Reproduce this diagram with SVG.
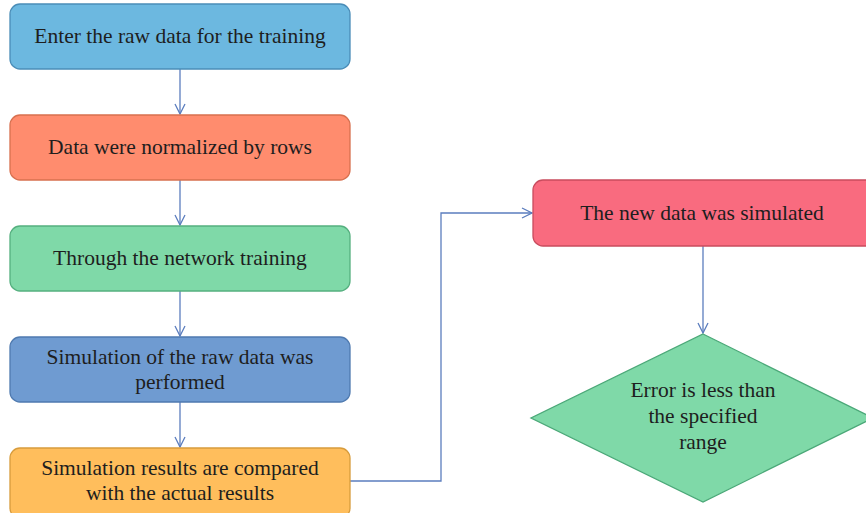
<svg xmlns="http://www.w3.org/2000/svg" width="866" height="513" viewBox="0 0 866 513">
<style>
text{font-family:"Liberation Serif","Times New Roman",serif;font-size:21.5px;fill:#1e1e1e;text-anchor:middle}
.c{fill:none;stroke:#5b7dbe;stroke-width:1.3}
.b{stroke-width:1.3}
</style>
<defs>
<marker id="ah" viewBox="0 0 12 12" refX="11" refY="6" markerWidth="12" markerHeight="12" markerUnits="userSpaceOnUse" orient="auto">
<path d="M1,1 L11,6 L1,11" fill="none" stroke="#5b7dbe" stroke-width="1.3"/>
</marker>
</defs>
<rect width="866" height="513" fill="#fff"/>
<g id="connectors">
<line class="c" x1="180" y1="69" x2="180" y2="114" marker-end="url(#ah)"/>
<line class="c" x1="180" y1="180" x2="180" y2="225" marker-end="url(#ah)"/>
<line class="c" x1="180" y1="291" x2="180" y2="336" marker-end="url(#ah)"/>
<line class="c" x1="180" y1="402" x2="180" y2="447" marker-end="url(#ah)"/>
<polyline class="c" points="350,481 441,481 441,213 532,213" marker-end="url(#ah)"/>
<line class="c" x1="703" y1="246" x2="703" y2="333" marker-end="url(#ah)"/>
</g>
<g id="n1"><rect class="b" x="10" y="4" width="340" height="65" rx="10" fill="#6cb8e0" stroke="#4a8db8"/><text x="180" y="43">Enter the raw data for the training</text></g>
<g id="n2"><rect class="b" x="10" y="115" width="340" height="65" rx="10" fill="#ff8c6e" stroke="#d8704f"/><text x="180" y="154">Data were normalized by rows</text></g>
<g id="n3"><rect class="b" x="10" y="226" width="340" height="65" rx="10" fill="#7fd9a8" stroke="#55b07f"/><text x="180" y="265">Through the network training</text></g>
<g id="n4"><rect class="b" x="10" y="337" width="340" height="65" rx="10" fill="#6f9bd1" stroke="#4f7ab0"/><text x="180" y="364">Simulation of the raw data was</text><text x="180" y="389">performed</text></g>
<g id="n5"><rect class="b" x="10" y="448" width="340" height="70" rx="10" fill="#ffbe5c" stroke="#d89c3c"/><text x="180" y="475">Simulation results are compared</text><text x="180" y="500">with the actual results</text></g>
<g id="n6"><rect class="b" x="533" y="180" width="345" height="66" rx="10" fill="#f96b7f" stroke="#c94c5e"/><text x="702" y="220">The new data was simulated</text></g>
<g id="n7"><polygon class="b" points="703,334 873,418 703,502 531,418" fill="#7fd9a8" stroke="#4ba878"/><text x="703" y="397">Error is less than</text><text x="703" y="423">the specified</text><text x="703" y="449">range</text></g>
</svg>
